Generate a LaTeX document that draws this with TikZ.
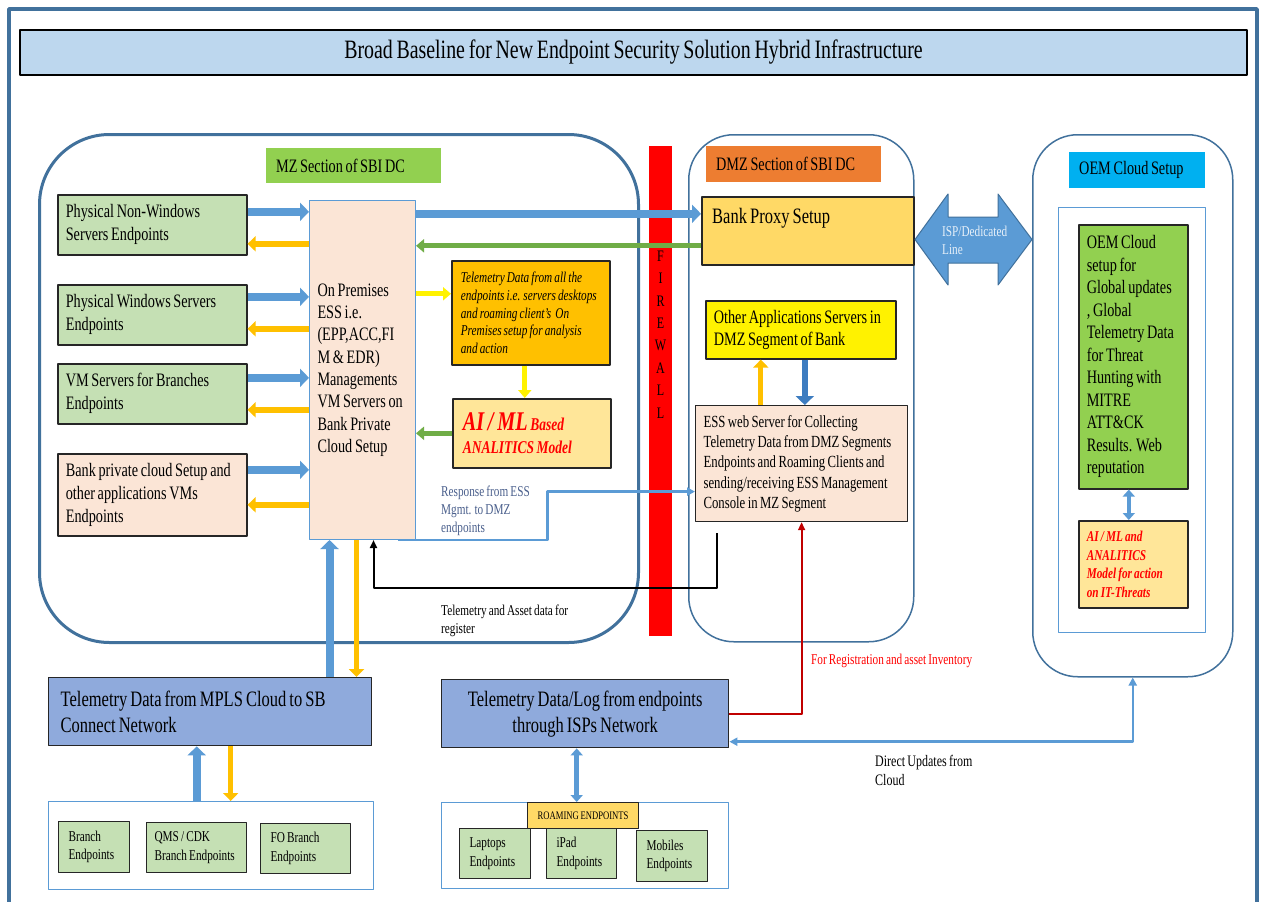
\documentclass[tikz,border=0pt]{standalone}
\usepackage{fontspec}
\setmainfont{Liberation Serif}[FakeStretch=0.75,WordSpace=0.75]
\usetikzlibrary{arrows.meta,positioning,calc}
\hyphenpenalty=10000
\definecolor{titlebg}{HTML}{BDD7EE}
\definecolor{framebl}{HTML}{41719C}
\definecolor{arrbl}{HTML}{5B9BD5}
\definecolor{deepbl}{HTML}{3D7CC0}
\definecolor{mzgr}{HTML}{92D050}
\definecolor{lgr}{HTML}{C5E0B4}
\definecolor{peach}{HTML}{FBE5D6}
\definecolor{amber}{HTML}{FFC000}
\definecolor{cream}{HTML}{FFE699}
\definecolor{gold}{HTML}{FFD966}
\definecolor{dmzor}{HTML}{ED7D31}
\definecolor{oemcy}{HTML}{00B0F0}
\definecolor{netbl}{HTML}{8FAADC}
\definecolor{arrgr}{HTML}{70AD47}
\definecolor{resptxt}{HTML}{4A5F8C}
\definecolor{regred}{HTML}{C00000}

\begin{document}
\begin{tikzpicture}[x=1pt,y=-1pt,line join=round,
    box/.style={draw=black!85,line width=1.6pt,anchor=north west,inner xsep=10pt,inner ysep=0pt,align=flush left,font={\fontsize{19}{23}\selectfont}},
    region/.style={draw=framebl,line width=1.5pt,anchor=north west,inner sep=0pt},
    tag/.style={anchor=north west,inner xsep=10pt,inner ysep=0pt,align=flush left,font={\fontsize{19}{22}\selectfont}},
    note/.style={anchor=west,inner sep=0pt,align=flush left,font={\fontsize{15}{18}\selectfont}},
    bluearr/.style={line width=8pt,arrbl,-{Triangle[length=9pt,width=18pt]}},
    yelarr/.style={line width=6pt,amber,-{Triangle[length=8pt,width=15pt]}},
    grnarr/.style={line width=5pt,arrgr,-{Triangle[length=8pt,width=13pt]}},
    brightarr/.style={line width=5pt,yellow,-{Triangle[length=8pt,width=13pt]}},
    dblarr/.style={line width=5pt,arrbl,{Triangle[length=7pt,width=12pt]}-{Triangle[length=7pt,width=12pt]}},
    blkarr/.style={line width=2pt,black,-{Triangle[length=8pt,width=7pt]}},
    redarr/.style={line width=1.8pt,regred,-{Triangle[length=8pt,width=7pt]}},
    resparr/.style={line width=2.5pt,arrbl,-{Triangle[length=8pt,width=8pt]}},
    updarr/.style={line width=2.5pt,arrbl,{Triangle[length=8pt,width=8pt]}-{Triangle[length=8pt,width=8pt]}}]
    \useasboundingbox (0,0) rectangle (1264,902);
    \fill[white] (0,0) rectangle (1264,902);
    \draw[framebl,line width=3.5pt] (9,9) rectangle (1257,930);
    \node[draw=black,line width=2pt,fill=titlebg,minimum width=1227pt,minimum height=45pt,font={\fontsize{26.5}{30}\selectfont}] (title) at (633.5,52.5) {Broad Baseline for New Endpoint Security Solution Hybrid Infrastructure};

    \node[region,line width=3pt,rounded corners=70pt,minimum width=599pt,minimum height=508pt] (mz) at (38,133) {};
    \node[region,rounded corners=45pt,minimum width=225pt,minimum height=507pt] (dmz) at (688,134) {};
    \node[region,rounded corners=45pt,minimum width=200pt,minimum height=542pt] (oem) at (1032,134) {};
    \node[region,line width=1pt,draw=arrbl,minimum width=147pt,minimum height=425pt] (oemin) at (1058,207) {};
    \node[fill=red,anchor=north west,inner sep=0pt,minimum width=23pt,minimum height=490pt] (fw) at (649,146) {};
    \node[align=center,inner sep=0pt,font={\fontsize{16}{22.4}\selectfont}] (fwtxt) at (660.5,334.5) {F\\I\\R\\E\\W\\A\\L\\L};

    \node[tag,fill=mzgr,text width=155pt,minimum height=35pt] (mzlbl) at (266,148) {MZ Section of SBI DC};
    \node[tag,fill=dmzor,text width=155pt,minimum height=36pt] (dmzlbl) at (706,146) {DMZ Section of SBI DC};
    \node[tag,fill=oemcy,text width=116pt,minimum height=36pt] (oemlbl) at (1069,152) {OEM Cloud Setup};

    \node[box,fill=lgr,inner xsep=8pt,text width=173pt,minimum height=60pt] (nonwin) at (57,194) {Physical Non-Windows\\Servers Endpoints};
    \node[box,fill=lgr,inner xsep=8pt,text width=173pt,minimum height=60pt] (win) at (57,284) {Physical Windows Servers\\Endpoints};
    \node[box,fill=lgr,inner xsep=8pt,text width=173pt,minimum height=60pt] (vmbr) at (57,363) {VM Servers for Branches\\Endpoints};
    \node[box,fill=peach,inner xsep=8pt,text width=173pt,minimum height=82pt] (bankvm) at (57,453) {Bank private cloud Setup and\\other applications VMs\\Endpoints};
    \node[box,draw=arrbl,line width=1pt,fill=peach,inner xsep=8pt,text width=90pt,minimum height=339pt,font={\fontsize{19}{22.3}\selectfont}] (ess) at (309,200) {On Premises\\ESS i.e.\\(EPP,ACC,FI\\M \& EDR)\\Managements\\VM Servers on\\Bank Private\\Cloud Setup};
    \node[box,fill=amber,inner xsep=9pt,text width=140pt,minimum height=104pt,font={\fontsize{15}{17.7}\selectfont\itshape}] (telem) at (451,260) {Telemetry Data from all the\\endpoints i.e. servers desktops\\and roaming client's\ \ On\\Premises setup for analysis\\and action};
    \node[box,fill=cream,text width=138pt,minimum height=69pt,text=red,font={\fontsize{18}{23}\selectfont\bfseries\itshape}] (aiml) at (452,398) {{\fontsize{27}{23}\selectfont AI / ML} Based\\ANALITICS Model};

    \node[box,fill=gold,inner sep=0pt,minimum width=212pt,minimum height=68pt,label={[anchor=north west,inner sep=0pt,xshift=11pt,yshift=-12pt,font={\fontsize{22}{26}\selectfont}]north west:Bank Proxy Setup}] (proxy) at (701,196) {};
    \node[box,fill=yellow,inner xsep=8pt,text width=174pt,minimum height=58pt,font={\fontsize{19}{22}\selectfont}] (otherapp) at (705,300) {Other Applications Servers in\\DMZ Segment of Bank};
    \node[box,line width=1.2pt,fill=peach,inner xsep=8pt,text width=196pt,minimum height=116pt,font={\fontsize{17}{20.3}\selectfont}] (essweb) at (695,405) {ESS web Server for Collecting\\Telemetry Data from DMZ Segments\\Endpoints and Roaming Clients and\\sending/receiving ESS Management\\Console in MZ Segment};

    \node[box,fill=mzgr,inner xsep=8pt,text width=93pt,minimum height=264pt,font={\fontsize{19}{22.5}\selectfont}] (oemgreen) at (1078,224) {OEM Cloud\\setup for\\Global updates\\, Global\\Telemetry Data\\for Threat\\Hunting with\\MITRE\\ATT\&CK\\Results. Web\\reputation};
    \node[box,fill=cream,inner xsep=8pt,text width=93pt,minimum height=87pt,text=red,font={\fontsize{15}{18.6}\selectfont\bfseries\itshape}] (oemai) at (1078,520) {AI / ML and\\ANALITICS\\Model for action\\on IT-Threats};

    \node[box,line width=1.4pt,fill=netbl,inner xsep=12pt,text width=299pt,minimum height=68pt,font={\fontsize{22}{26.5}\selectfont}] (mpls) at (48,677) {Telemetry Data from MPLS Cloud to SB\\Connect Network};
    \node[box,line width=1.4pt,fill=netbl,inner xsep=12pt,text width=263pt,align=flush center,minimum height=68pt,font={\fontsize{22}{26}\selectfont}] (isp) at (441,679) {Telemetry Data/Log from endpoints\\through ISPs Network};

    \node[region,line width=1pt,draw=arrbl,minimum width=325pt,minimum height=88pt] (branchgrp) at (48,801) {};
    \node[box,line width=1.2pt,fill=lgr,text width=51pt,minimum height=51pt,font={\fontsize{15}{18.5}\selectfont}] (branch) at (58,821) {Branch\\Endpoints};
    \node[box,line width=1.2pt,fill=lgr,inner xsep=8pt,text width=84pt,minimum height=50pt,font={\fontsize{15}{18.5}\selectfont}] (qms) at (146,822) {QMS / CDK\\Branch Endpoints};
    \node[box,line width=1.2pt,fill=lgr,text width=70pt,minimum height=50pt,font={\fontsize{15}{18.5}\selectfont}] (fobr) at (260,823) {FO Branch\\Endpoints};

    \node[region,line width=1pt,draw=arrbl,minimum width=287pt,minimum height=86pt] (roamgrp) at (441,802) {};
    \node[box,line width=1.2pt,fill=lgr,text width=51pt,minimum height=50pt,font={\fontsize{15}{18.5}\selectfont}] (laptop) at (459,828) {Laptops\\Endpoints};
    \node[box,line width=1.2pt,fill=lgr,text width=50pt,minimum height=50pt,font={\fontsize{15}{18.5}\selectfont}] (ipad) at (546,828) {iPad\\Endpoints};
    \node[box,line width=1.2pt,fill=lgr,text width=51pt,minimum height=51pt,font={\fontsize{15}{18.5}\selectfont}] (mobile) at (636,830) {Mobiles\\Endpoints};
    \node[box,line width=1.2pt,fill=gold,inner xsep=0pt,align=center,minimum width=111pt,minimum height=26pt,font={\fontsize{11.5}{13}\selectfont}] (roamlbl) at (527,802) {ROAMING ENDPOINTS};

    \draw[framebl,fill=arrbl,line width=1pt] (915,239.5) -- (948,194) -- (948,217) -- (998,217) -- (998,194) -- (1032,239.5) -- (998,285) -- (998,263) -- (948,263) -- (948,285) -- cycle;
    \node[note,text=white!85!arrbl] (ispline) at (942,240) {ISP/Dedicated\\Line};

    \draw[bluearr] ([yshift=13pt]nonwin.east) -- ([yshift=13pt]nonwin.east -| ess.west);
    \draw[yelarr] ([yshift=-19pt]nonwin.east -| ess.west) -- ([yshift=-19pt]nonwin.east);
    \draw[bluearr] ([yshift=18pt]win.east) -- ([yshift=18pt]win.east -| ess.west);
    \draw[yelarr] ([yshift=-14pt]win.east -| ess.west) -- ([yshift=-14pt]win.east);
    \draw[bluearr] ([yshift=16pt]vmbr.east) -- ([yshift=16pt]vmbr.east -| ess.west);
    \draw[yelarr] ([yshift=-16pt]vmbr.east -| ess.west) -- ([yshift=-16pt]vmbr.east);
    \draw[bluearr] ([yshift=25pt]bankvm.east) -- ([yshift=25pt]bankvm.east -| ess.west);
    \draw[yelarr] ([yshift=-10pt]bankvm.east -| ess.west) -- ([yshift=-10pt]bankvm.east);

    \draw[bluearr] ([yshift=17pt]proxy.west -| ess.east) -- ([yshift=17pt]proxy.west);
    \draw[grnarr] ([yshift=-15pt]proxy.west) -- ([yshift=-15pt]proxy.west -| ess.east);
    \draw[brightarr] ([yshift=19pt]telem.west -| ess.east) -- ([yshift=19pt]telem.west);
    \draw[brightarr] ([xshift=-6pt]telem.south) -- ([xshift=-6pt]telem.south |- aiml.north);
    \draw[grnarr] (aiml.west) -- (aiml.west -| ess.east);

    \draw[yelarr,line width=5pt] ([xshift=-40pt]otherapp.south |- essweb.north) -- ([xshift=-40pt]otherapp.south);
    \draw[bluearr,deepbl,line width=6pt] ([xshift=4pt]otherapp.south) -- ([xshift=4pt]otherapp.south |- essweb.north);

    \draw[bluearr] ([xshift=-33pt]ess.south |- mpls.north) -- ([xshift=-33pt]ess.south);
    \draw[yelarr,line width=5pt] ([xshift=-6pt]ess.south) -- ([xshift=-6pt]ess.south |- mpls.north);
    \draw[blkarr] ([xshift=-85pt,yshift=-11pt]essweb.south) -- ++(0,55) -| ([xshift=11pt]ess.south);
    \draw[resparr] ([xshift=35pt]ess.south) -- ++(150,0) |- ([yshift=-28pt]essweb.west);
    \draw[redarr] (isp.east) -| (essweb.south);
    \draw[updarr] (oem.south) |- ([yshift=-28pt]isp.east);
    \draw[dblarr,line width=3.5pt] ([xshift=-4.5pt]oemgreen.south) -- ([xshift=-4.5pt]oemai.north);

    \draw[bluearr] ([xshift=-13.5pt]mpls.south |- branchgrp.north) -- ([xshift=-13.5pt]mpls.south);
    \draw[yelarr,line width=5pt] ([xshift=20.5pt]mpls.south) -- ([xshift=20.5pt]mpls.south |- branchgrp.north);
    \draw[dblarr] ([xshift=-8.5pt]isp.south) -- ([xshift=-8.5pt]isp.south |- roamgrp.north);

    \node[note,text=resptxt] (resp) at (441,511) {Response from ESS\\Mgmt. to DMZ\\endpoints};
    \node[note] (regnote) at (441,621) {Telemetry and Asset data for\\register};
    \node[note,text=red] (invnote) at (811,661) {For Registration and asset Inventory};
    \node[note,font={\fontsize{16}{19}\selectfont}] (updnote) at (875,770) {Direct Updates from\\Cloud};
\end{tikzpicture}
\end{document}
